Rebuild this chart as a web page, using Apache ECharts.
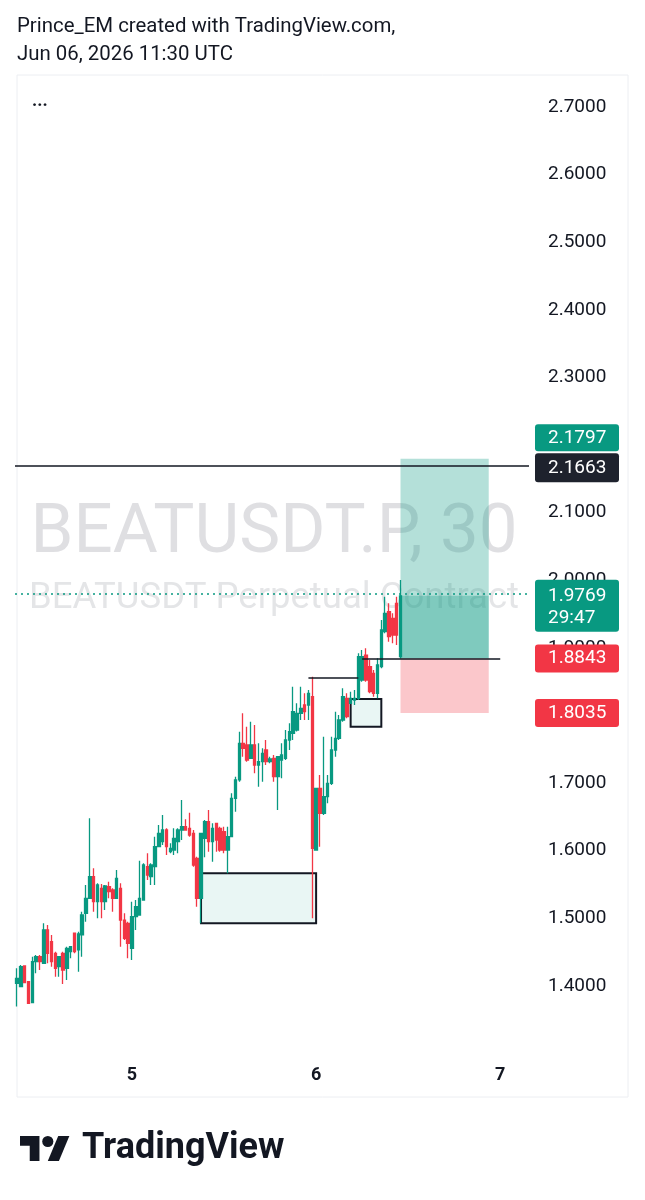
<!DOCTYPE html>
<html>
<head>
    <meta charset="utf-8">
    <title>BEATUSDT.P, 30</title>
    <script src="https://cdn.jsdelivr.net/npm/echarts@6/dist/echarts.min.js"></script>
    <style>
        html, body { margin: 0; padding: 0; background: #fff; }
        #main { width: 645px; height: 1200px; }
    </style>
</head>
<body>
<div id="main"></div>
<script type="text/javascript">
// 30m candles, Jun 04 09:00 UTC -> Jun 06 11:00 UTC
var opens = [
    1.4037, 1.3988, 1.4293, 1.4062, 1.3751, 1.4357, 1.4431, 1.4333, 1.4826, 1.4653,
    1.4481, 1.4283, 1.4481, 1.4259, 1.4505, 1.4777, 1.4530, 1.4752, 1.5072, 1.5294,
    1.5615, 1.5245, 1.5442, 1.5245, 1.5467, 1.5418, 1.5294, 1.5442, 1.4973, 1.4924,
    1.4554, 1.5023, 1.5047, 1.5269, 1.5762, 1.5614, 1.5762, 1.6058, 1.6132, 1.6305,
    1.5984, 1.6009, 1.6132, 1.6305, 1.6354, 1.6329, 1.6255, 1.5886, 1.5294, 1.6180,
    1.6428, 1.6132, 1.6404, 1.6330, 1.6281, 1.6009, 1.6207, 1.6773, 1.7045, 1.7587,
    1.7562, 1.7365, 1.7562, 1.7266, 1.7316, 1.7488, 1.7316, 1.7365, 1.7094, 1.7340,
    1.7365, 1.7636, 1.7735, 1.7784, 1.8031, 1.8154, 1.8154, 1.8277, 1.6008, 1.6921,
    1.6551, 1.6798, 1.6995, 1.7488, 1.7661, 1.7932, 1.8253, 1.8179, 1.8228, 1.8253,
    1.8524, 1.8893, 1.8721, 1.8622, 1.8327, 1.8721, 1.9239, 1.9535, 1.9436, 1.9658,
    1.8870
];
var closes = [
    1.4111, 1.4283, 1.4047, 1.3741, 1.4357, 1.4431, 1.4357, 1.4826, 1.4481, 1.4357,
    1.4259, 1.4431, 1.4234, 1.4555, 1.4579, 1.4505, 1.4767, 1.5048, 1.5294, 1.5615,
    1.5245, 1.5492, 1.5245, 1.5477, 1.5393, 1.5294, 1.5590, 1.4973, 1.4702, 1.4628,
    1.5023, 1.5171, 1.5294, 1.5787, 1.5639, 1.5787, 1.6058, 1.6255, 1.6305, 1.6058,
    1.6034, 1.6181, 1.6305, 1.6354, 1.6305, 1.6231, 1.5787, 1.5294, 1.6255, 1.6428,
    1.6132, 1.6330, 1.6157, 1.6009, 1.6009, 1.6207, 1.6773, 1.7045, 1.7587, 1.7513,
    1.7340, 1.7562, 1.7266, 1.7316, 1.7439, 1.7316, 1.7355, 1.7094, 1.7390, 1.7414,
    1.7636, 1.7760, 1.8055, 1.8031, 1.8105, 1.8055, 1.8326, 1.6033, 1.6921, 1.6551,
    1.6798, 1.6995, 1.7488, 1.7661, 1.7932, 1.8277, 1.7981, 1.8253, 1.8253, 1.8869,
    1.8869, 1.8524, 1.8351, 1.8327, 1.8746, 1.9263, 1.9510, 1.9165, 1.9189, 1.9189,
    1.9769
];
var lows = [
    1.3692, 1.3988, 1.4037, 1.3731, 1.3751, 1.4185, 1.4234, 1.4323, 1.4333, 1.4283,
    1.4135, 1.4135, 1.4027, 1.4086, 1.4407, 1.4481, 1.4209, 1.4431, 1.4949, 1.5294,
    1.5097, 1.4998, 1.4998, 1.5122, 1.5294, 1.5097, 1.5294, 1.4579, 1.4677, 1.4406,
    1.4382, 1.4826, 1.5047, 1.5269, 1.5565, 1.5491, 1.5491, 1.6058, 1.6083, 1.5935,
    1.5960, 1.5935, 1.5960, 1.6157, 1.6305, 1.6206, 1.5762, 1.5171, 1.4924, 1.5900,
    1.5984, 1.5836, 1.5984, 1.5984, 1.5960, 1.5664, 1.6207, 1.6576, 1.7020, 1.7390,
    1.7316, 1.7365, 1.7143, 1.6946, 1.7020, 1.7266, 1.7291, 1.7020, 1.6601, 1.7069,
    1.7340, 1.7488, 1.7636, 1.7760, 1.7932, 1.7932, 1.7932, 1.4998, 1.6008, 1.6058,
    1.6527, 1.6699, 1.6970, 1.7390, 1.7636, 1.7907, 1.7957, 1.8179, 1.8154, 1.8228,
    1.8499, 1.8499, 1.8327, 1.8277, 1.8253, 1.8697, 1.9214, 1.9091, 1.9066, 1.9042,
    1.8843
];
var highs = [
    1.4259, 1.4308, 1.4293, 1.4062, 1.4431, 1.4456, 1.4456, 1.4924, 1.4900, 1.4752,
    1.4505, 1.4441, 1.4505, 1.4579, 1.4579, 1.4786, 1.4801, 1.5097, 1.5492, 1.6478,
    1.5738, 1.5516, 1.5506, 1.5492, 1.5541, 1.5442, 1.5713, 1.5516, 1.5072, 1.4949,
    1.5245, 1.5269, 1.5851, 1.5812, 1.5960, 1.5812, 1.6206, 1.6379, 1.6527, 1.6329,
    1.6108, 1.6329, 1.6329, 1.6749, 1.6463, 1.6561, 1.6305, 1.5910, 1.6255, 1.6453,
    1.6601, 1.6404, 1.6404, 1.6354, 1.6354, 1.6354, 1.6847, 1.7094, 1.7759, 1.8031,
    1.7833, 1.7907, 1.7858, 1.7587, 1.7513, 1.7636, 1.7390, 1.7414, 1.7400, 1.7587,
    1.7784, 1.7883, 1.8425, 1.8179, 1.8425, 1.8326, 1.8376, 1.8573, 1.6921, 1.7118,
    1.7685, 1.7118, 1.7685, 1.8055, 1.8006, 1.8401, 1.8327, 1.8351, 1.8376, 1.8918,
    1.8968, 1.8992, 1.8820, 1.8672, 1.8844, 1.9411, 1.9757, 1.9658, 1.9510, 1.9757,
    2.0003
];

// drawn levels
var targetPrice = 2.1797;
var resistance = 2.1663;
var lastPrice = 1.9769;
var entryPrice = 1.8843;
var stopPrice = 1.8035;
var sweepHigh = 1.8558;
var demandBox = [1.5664, 1.4925];
var smallBox = [1.8243, 1.7833];
var countdown = '29:47';

// time slots (30 min) that make up the category axis
var slotCount = 134;
var slotStart = Date.UTC(2026, 5, 4, 9, 0);
var slots = [];
for (var i = 0; i < slotCount; i++) {
    slots.push(new Date(slotStart + i * 1800000).toISOString().slice(0, 16));
}

var candles = [];
for (var j = 0; j < opens.length; j++) {
    candles.push([opens[j], closes[j], lows[j], highs[j]]);
}

var UP = '#089981', DOWN = '#F23645', INK = '#131722';

var myChart = echarts.init(document.getElementById('main'));

var option = {
    animation: false,
    backgroundColor: '#ffffff',
    grid: {
        left: 15, right: 116, top: 73.2, bottom: 146.6,
        containLabel: false, outerBoundsMode: 'none'
    },
    xAxis: {
        type: 'category',
        data: slots,
        boundaryGap: true,
        axisLine: { show: false },
        axisTick: { show: false },
        splitLine: { show: false },
        axisLabel: {
            interval: function (idx, val) { return val.slice(11) === '00:00'; },
            formatter: function (val) { return String(+val.slice(8, 10)); },
            color: INK,
            fontSize: 18,
            fontWeight: 'bold',
            fontFamily: 'Roboto',
            margin: 13
        }
    },
    yAxis: {
        type: 'value',
        position: 'right',
        min: 1.3,
        max: 2.75,
        interval: 0.1,
        axisLine: { show: false },
        axisTick: { show: false },
        splitLine: { show: false },
        axisLabel: {
            showMinLabel: false,
            showMaxLabel: false,
            color: INK,
            fontSize: 19,
            fontFamily: 'Roboto',
            margin: 19,
            formatter: function (v) {
                if (v < 1.35 || v > 2.71) return '';
                return v.toFixed(4);
            }
        }
    },
    series: [{
        type: 'candlestick',
        data: candles,
        barWidth: 3,
        itemStyle: {
            color: UP, color0: DOWN,
            borderColor: UP, borderColor0: DOWN,
            borderWidth: 1.3
        },
        markArea: {
            silent: true,
            data: [
                [{ coord: [slots[48], demandBox[0]], itemStyle: { color: 'rgba(8,153,129,0.09)', borderColor: INK, borderWidth: 2 } },
                 { coord: [slots[78], demandBox[1]] }],
                [{ coord: [slots[87], smallBox[0]], itemStyle: { color: 'rgba(8,153,129,0.09)', borderColor: INK, borderWidth: 2 } },
                 { coord: [slots[95], smallBox[1]] }],
                [{ coord: [slots[100], targetPrice], itemStyle: { color: 'rgba(8,153,129,0.3)' } },
                 { coord: [slots[123], entryPrice] }],
                [{ coord: [slots[100], lastPrice], itemStyle: { color: 'rgba(8,153,129,0.3)' } },
                 { coord: [slots[123], entryPrice] }],
                [{ coord: [slots[100], entryPrice], itemStyle: { color: 'rgba(242,54,69,0.28)' } },
                 { coord: [slots[123], stopPrice] }]
            ]
        },
        markLine: {
            silent: true,
            symbol: ['none', 'none'],
            label: { show: false },
            data: [
                { yAxis: resistance, lineStyle: { color: INK, width: 1.5, type: 'solid' } },
                { yAxis: lastPrice, lineStyle: { color: UP, width: 1.5, type: [2, 4] } },
                [{ coord: [slots[90], entryPrice], lineStyle: { color: INK, width: 1.5, type: 'solid' } },
                 { coord: [slots[126], entryPrice] }],
                [{ coord: [slots[76], sweepHigh], lineStyle: { color: INK, width: 1.5, type: 'solid' } },
                 { coord: [slots[89], sweepHigh] }]
            ]
        }
    }]
};
myChart.setOption(option);

// price-scale badges, placed through the y axis scale
function py(v) { return myChart.convertToPixel({ yAxisIndex: 0 }, v); }

function badge(y, h, color, lines, z) {
    var els = [{
        type: 'rect', z: z, zlevel: 1,
        shape: { x: 535, y: y, width: 84, height: h, r: 3 },
        style: { fill: color }
    }];
    for (var k = 0; k < lines.length; k++) {
        els.push({
            type: 'text', z: z + 1, zlevel: 1,
            style: {
                text: lines[k].text, x: 548, y: lines[k].y,
                fill: '#ffffff', font: '19px Roboto',
                align: 'left', verticalAlign: 'middle'
            }
        });
    }
    return els;
}

var yRes = py(resistance);
var yTarget = Math.min(py(targetPrice), yRes - 30);
var yLast = py(lastPrice);
var yEntry = py(entryPrice);
var yStop = py(stopPrice);

var graphics = [
    // panel frame
    { type: 'rect', z: -10, shape: { x: 17, y: 75, width: 611, height: 1022 },
      style: { fill: 'none', stroke: '#eceef2', lineWidth: 1 } },
    // watermark
    { type: 'text', z: -5, style: { text: 'BEATUSDT.P, 30', x: 274, y: 535, fill: 'rgba(120,123,134,0.24)',
      font: '69px Roboto', align: 'center', verticalAlign: 'middle' } },
    { type: 'text', z: -5, style: { text: 'BEATUSDT Perpetual Contract', x: 274, y: 599, fill: 'rgba(120,123,134,0.2)',
      font: '36.5px Roboto', align: 'center', verticalAlign: 'middle' } },
    // header
    { type: 'text', style: { text: 'Prince_EM created with TradingView.com,', x: 17, y: 27, fill: INK,
      font: '20.4px Roboto', align: 'left', verticalAlign: 'middle' } },
    { type: 'text', style: { text: 'Jun 06, 2026 11:30 UTC', x: 17, y: 55, fill: INK,
      font: '20.4px Roboto', align: 'left', verticalAlign: 'middle' } },
    { type: 'text', style: { text: '...', x: 32, y: 101, fill: INK,
      font: 'bold 18px Roboto', align: 'left', verticalAlign: 'middle' } },
    // TradingView logo
    { type: 'group', x: 20, y: 1130.4, scaleX: 1.39, scaleY: 1.39, children: [
        { type: 'polygon', shape: { points: [[0, 4], [14, 4], [14, 22], [7, 22], [7, 11], [0, 11]] }, style: { fill: INK } },
        { type: 'circle', shape: { cx: 20, cy: 8, r: 4 }, style: { fill: INK } },
        { type: 'polygon', shape: { points: [[20, 22], [28, 22], [35.5, 4], [27.5, 4]] }, style: { fill: INK } }
    ] },
    { type: 'text', style: { text: 'TradingView', x: 82, y: 1149, fill: INK,
      font: 'bold 36px Roboto', align: 'left', verticalAlign: 'middle' } }
];

graphics = graphics
    .concat(badge(yTarget - 13.5, 27, UP, [{ text: targetPrice.toFixed(4), y: yTarget }], 50))
    .concat(badge(yRes - 14.5, 29, '#1e222d', [{ text: resistance.toFixed(4), y: yRes }], 52))
    .concat(badge(yLast - 16, 52, UP, [{ text: lastPrice.toFixed(4), y: yLast }, { text: countdown, y: yLast + 22 }], 50))
    .concat(badge(yEntry - 14, 28, DOWN, [{ text: entryPrice.toFixed(4), y: yEntry }], 50))
    .concat(badge(yStop - 14, 28, DOWN, [{ text: stopPrice.toFixed(4), y: yStop }], 50));

myChart.setOption({ graphic: graphics });
</script>
</body>
</html>
